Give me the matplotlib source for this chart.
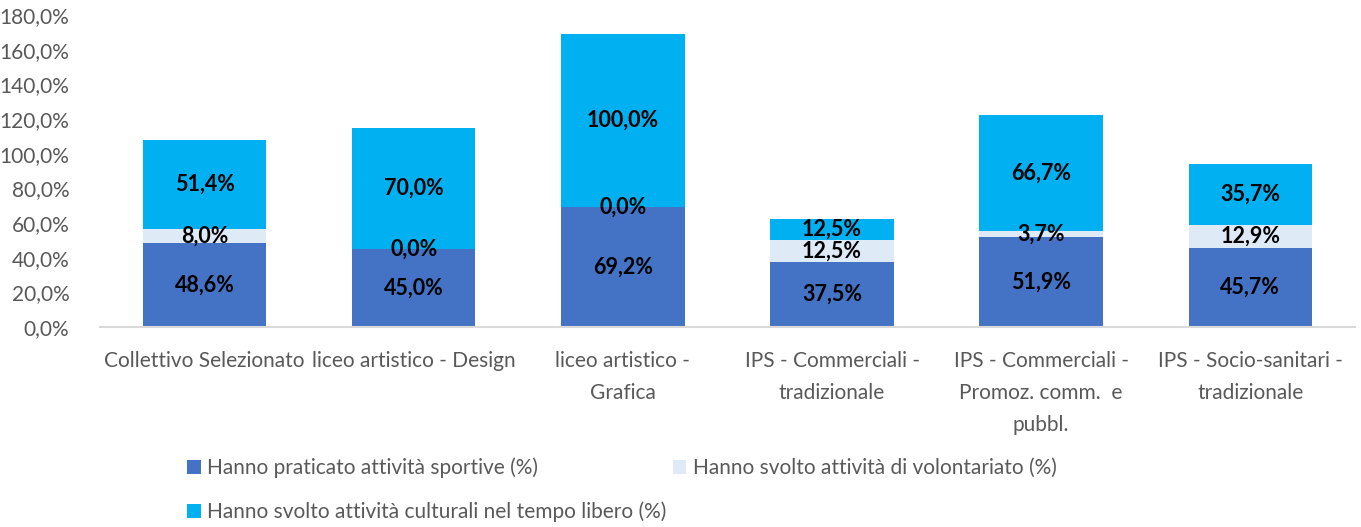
import numpy as np
import matplotlib
matplotlib.use("Agg")
import matplotlib.pyplot as plt
from matplotlib.ticker import FuncFormatter

categories = ["Collettivo Selezionato", "liceo artistico - Design",
              "liceo artistico -\nGrafica", "IPS - Commerciali -\ntradizionale",
              "IPS - Commerciali -\nPromoz. comm.  e\npubbl.",
              "IPS - Socio-sanitari -\ntradizionale"]
sport = [48.6, 45.0, 69.2, 37.5, 51.9, 45.7]
volontariato = [8.0, 0.0, 0.0, 12.5, 3.7, 12.9]
cultura = [51.4, 70.0, 100.0, 12.5, 66.7, 35.7]

series_names = ["Hanno praticato attività sportive (%)",
                "Hanno svolto attività di volontariato (%)",
                "Hanno svolto attività culturali nel tempo libero (%)"]
colors = ["#4472C4", "#DEEBF7", "#00B0F0"]

plt.rcParams['font.family'] = ['Lato', 'DejaVu Sans']

fig = plt.figure(figsize=(13.61, 5.27), dpi=100)
ax = fig.add_axes([0.0735, 0.3795, 0.922, 0.592])

x = np.arange(len(categories))
bottom = np.zeros(len(categories))
handles = []
for vals, col, name in zip([sport, volontariato, cultura], colors, series_names):
    vals = np.array(vals)
    b = ax.bar(x, vals, 0.59, bottom=bottom, color=col, label=name, zorder=2)
    handles.append(b)
    for xi, v, bt in zip(x, vals, bottom):
        ax.text(xi, bt + v / 2, f"{v:.1f}%".replace(".", ","), ha="center",
                va="center", fontsize=15.5, fontweight="bold", color="black", zorder=3)
    bottom += vals

ax.set_xlim(-0.5, len(categories) - 0.5)
ax.set_ylim(0, 180)
ax.set_yticks(np.arange(0, 181, 20))
ax.yaxis.set_major_formatter(FuncFormatter(lambda v, p: f"{v:.1f}%".replace(".", ",")))
for s in ["top", "right", "left"]:
    ax.spines[s].set_visible(False)
ax.spines["bottom"].set_color("#D9D9D9")
ax.spines["bottom"].set_linewidth(1.5)
ax.tick_params(axis="y", length=0, labelsize=15, labelcolor="#595959", pad=22)
ax.tick_params(axis="x", length=0, labelsize=15, labelcolor="#595959", pad=17)
ax.set_xticks(x)
ax.set_xticklabels(categories, linespacing=1.75)

# legend order so that rows read: sport, volontariato / cultura
order = [0, 2, 1]
fig.legend(handles=[handles[i] for i in order], labels=[series_names[i] for i in order],
           loc="upper left", bbox_to_anchor=(0.13, 0.152), ncol=2, frameon=False,
           fontsize=15, labelcolor="#595959", handlelength=0.65, handleheight=0.65,
           handletextpad=0.3, columnspacing=0.3, labelspacing=1.15, borderpad=0)

fig.savefig("out.png", dpi=100)
